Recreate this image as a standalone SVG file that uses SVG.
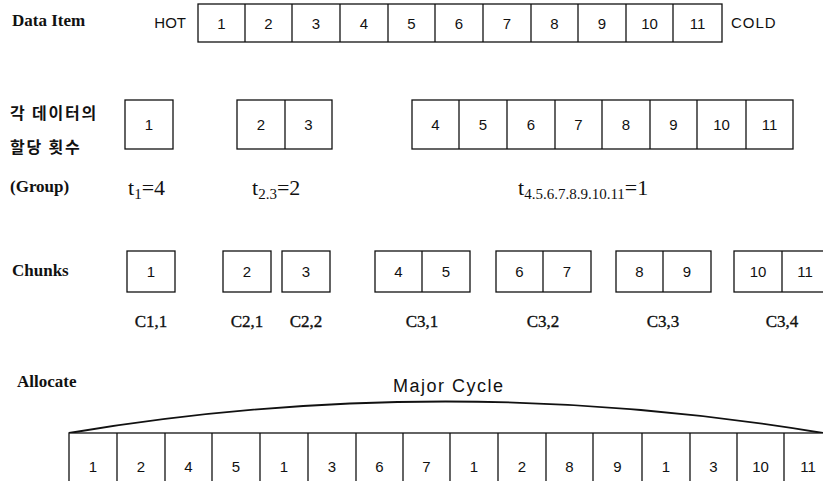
<svg xmlns="http://www.w3.org/2000/svg" width="823" height="481" viewBox="0 0 823 481">
<style>
.box{fill:#fff;stroke:#111;stroke-width:1.3}
.div{stroke:#111;stroke-width:1.3}
.n{font-family:"Liberation Sans",Arial,sans-serif;font-size:15px;fill:#111;text-anchor:middle}
.lbl{font-family:"Liberation Serif","Times New Roman",serif;font-weight:bold;font-size:17px;fill:#111}
.kr{font-family:"Noto Sans CJK KR","Noto Sans",sans-serif;font-weight:bold;font-size:16px;fill:#111;letter-spacing:1.8px}
.side{font-family:"Liberation Sans",Arial,sans-serif;font-size:15px;fill:#111}
.t{font-family:"Liberation Serif","Times New Roman",serif;font-size:22px;fill:#111}
.sub{font-size:15px}
.c{font-family:"Liberation Serif","Times New Roman",serif;font-size:17px;fill:#111;stroke:#111;stroke-width:0.35;text-anchor:middle}
.mc{font-family:"Liberation Sans",Arial,sans-serif;font-size:18px;fill:#111;letter-spacing:1.5px}
.curve{fill:none;stroke:#111;stroke-width:1.8}
</style>

<g id="labels">
<text class="lbl" x="12" y="26">Data Item</text>
<text class="kr" x="10" y="119">각 데이터의</text>
<text class="kr" x="10" y="153">할당 횟수</text>
<text class="lbl" x="10" y="192">(Group)</text>
<text class="lbl" x="12" y="276">Chunks</text>
<text class="lbl" x="17" y="387">Allocate</text>
</g>

<g id="data-items">
<text class="side" x="186" y="28" text-anchor="end">HOT</text>
<rect class="box" x="198" y="4" width="524" height="38"/>
<line class="div" x1="245" y1="4" x2="245" y2="42"/>
<line class="div" x1="292" y1="4" x2="292" y2="42"/>
<line class="div" x1="340" y1="4" x2="340" y2="42"/>
<line class="div" x1="388" y1="4" x2="388" y2="42"/>
<line class="div" x1="435" y1="4" x2="435" y2="42"/>
<line class="div" x1="483" y1="4" x2="483" y2="42"/>
<line class="div" x1="531" y1="4" x2="531" y2="42"/>
<line class="div" x1="578" y1="4" x2="578" y2="42"/>
<line class="div" x1="626" y1="4" x2="626" y2="42"/>
<line class="div" x1="673" y1="4" x2="673" y2="42"/>
<text class="n" x="221.5" y="28.5">1</text>
<text class="n" x="268.5" y="28.5">2</text>
<text class="n" x="316" y="28.5">3</text>
<text class="n" x="364" y="28.5">4</text>
<text class="n" x="411.5" y="28.5">5</text>
<text class="n" x="459" y="28.5">6</text>
<text class="n" x="507" y="28.5">7</text>
<text class="n" x="554.5" y="28.5">8</text>
<text class="n" x="602" y="28.5">9</text>
<text class="n" x="649.5" y="28.5">10</text>
<text class="n" x="697.5" y="28.5">11</text>
<text class="side" x="731" y="28" letter-spacing="1">COLD</text>
</g>

<g id="group-1">
<rect class="box" x="125" y="100" width="48" height="49"/>
<text class="n" x="149" y="130">1</text>
<text class="t" x="128" y="195">t<tspan class="sub" dy="4">1</tspan><tspan dy="-4">=4</tspan></text>
</g>

<g id="group-2">
<rect class="box" x="237" y="100" width="95" height="49"/>
<line class="div" x1="285" y1="100" x2="285" y2="149"/>
<text class="n" x="261" y="130">2</text>
<text class="n" x="308.5" y="130">3</text>
<text class="t" x="252" y="195">t<tspan class="sub" dy="4">2.3</tspan><tspan dy="-4">=2</tspan></text>
</g>

<g id="group-3">
<rect class="box" x="412" y="100" width="381" height="49"/>
<line class="div" x1="459" y1="100" x2="459" y2="149"/>
<line class="div" x1="507" y1="100" x2="507" y2="149"/>
<line class="div" x1="555" y1="100" x2="555" y2="149"/>
<line class="div" x1="602" y1="100" x2="602" y2="149"/>
<line class="div" x1="650" y1="100" x2="650" y2="149"/>
<line class="div" x1="697" y1="100" x2="697" y2="149"/>
<line class="div" x1="746" y1="100" x2="746" y2="149"/>
<text class="n" x="435.5" y="130">4</text>
<text class="n" x="483" y="130">5</text>
<text class="n" x="531" y="130">6</text>
<text class="n" x="578.5" y="130">7</text>
<text class="n" x="626" y="130">8</text>
<text class="n" x="673.5" y="130">9</text>
<text class="n" x="721.5" y="130">10</text>
<text class="n" x="769.5" y="130">11</text>
<text class="t" x="518" y="195">t<tspan class="sub" dy="4">4.5.6.7.8.9.10.11</tspan><tspan dy="-4">=1</tspan></text>
</g>

<g id="chunk-c11">
<rect class="box" x="127" y="251" width="48" height="41"/>
<text class="n" x="151" y="277">1</text>
<text class="c" x="151" y="327">C1,1</text>
</g>
<g id="chunk-c21">
<rect class="box" x="223" y="251" width="48" height="41"/>
<text class="n" x="247" y="277">2</text>
<text class="c" x="247" y="327">C2,1</text>
</g>
<g id="chunk-c22">
<rect class="box" x="282" y="251" width="48" height="41"/>
<text class="n" x="306" y="277">3</text>
<text class="c" x="306" y="327">C2,2</text>
</g>
<g id="chunk-c31">
<rect class="box" x="375" y="251" width="95" height="41"/>
<line class="div" x1="422" y1="251" x2="422" y2="292"/>
<text class="n" x="398.5" y="277">4</text>
<text class="n" x="446" y="277">5</text>
<text class="c" x="422" y="327">C3,1</text>
</g>
<g id="chunk-c32">
<rect class="box" x="496" y="251" width="95" height="41"/>
<line class="div" x1="543" y1="251" x2="543" y2="292"/>
<text class="n" x="519.5" y="277">6</text>
<text class="n" x="567" y="277">7</text>
<text class="c" x="543" y="327">C3,2</text>
</g>
<g id="chunk-c33">
<rect class="box" x="616" y="251" width="95" height="41"/>
<line class="div" x1="663" y1="251" x2="663" y2="292"/>
<text class="n" x="639.5" y="277">8</text>
<text class="n" x="687" y="277">9</text>
<text class="c" x="663" y="327">C3,3</text>
</g>
<g id="chunk-c34">
<rect class="box" x="734" y="251" width="96" height="41"/>
<line class="div" x1="782" y1="251" x2="782" y2="292"/>
<text class="n" x="758" y="277">10</text>
<text class="n" x="805" y="277">11</text>
<text class="c" x="782" y="327">C3,4</text>
</g>

<g id="connectors">
<path class="curve" d="M69,433 Q445,370 823,433"/>
</g>
<text class="mc" x="393" y="392">Major Cycle</text>

<g id="allocation">
<rect class="box" x="69" y="433" width="770" height="60"/>
<line class="div" x1="117" y1="433" x2="117" y2="481"/>
<line class="div" x1="165" y1="433" x2="165" y2="481"/>
<line class="div" x1="212" y1="433" x2="212" y2="481"/>
<line class="div" x1="260" y1="433" x2="260" y2="481"/>
<line class="div" x1="308" y1="433" x2="308" y2="481"/>
<line class="div" x1="356" y1="433" x2="356" y2="481"/>
<line class="div" x1="403" y1="433" x2="403" y2="481"/>
<line class="div" x1="450" y1="433" x2="450" y2="481"/>
<line class="div" x1="498" y1="433" x2="498" y2="481"/>
<line class="div" x1="546" y1="433" x2="546" y2="481"/>
<line class="div" x1="593" y1="433" x2="593" y2="481"/>
<line class="div" x1="642" y1="433" x2="642" y2="481"/>
<line class="div" x1="690" y1="433" x2="690" y2="481"/>
<line class="div" x1="737" y1="433" x2="737" y2="481"/>
<line class="div" x1="784" y1="433" x2="784" y2="481"/>
<text class="n" x="93" y="472">1</text>
<text class="n" x="141" y="472">2</text>
<text class="n" x="188.5" y="472">4</text>
<text class="n" x="236" y="472">5</text>
<text class="n" x="284" y="472">1</text>
<text class="n" x="332" y="472">3</text>
<text class="n" x="379.5" y="472">6</text>
<text class="n" x="426.5" y="472">7</text>
<text class="n" x="474" y="472">1</text>
<text class="n" x="522" y="472">2</text>
<text class="n" x="569.5" y="472">8</text>
<text class="n" x="617.5" y="472">9</text>
<text class="n" x="666" y="472">1</text>
<text class="n" x="713.5" y="472">3</text>
<text class="n" x="760.5" y="472">10</text>
<text class="n" x="808" y="472">11</text>
</g>
</svg>
